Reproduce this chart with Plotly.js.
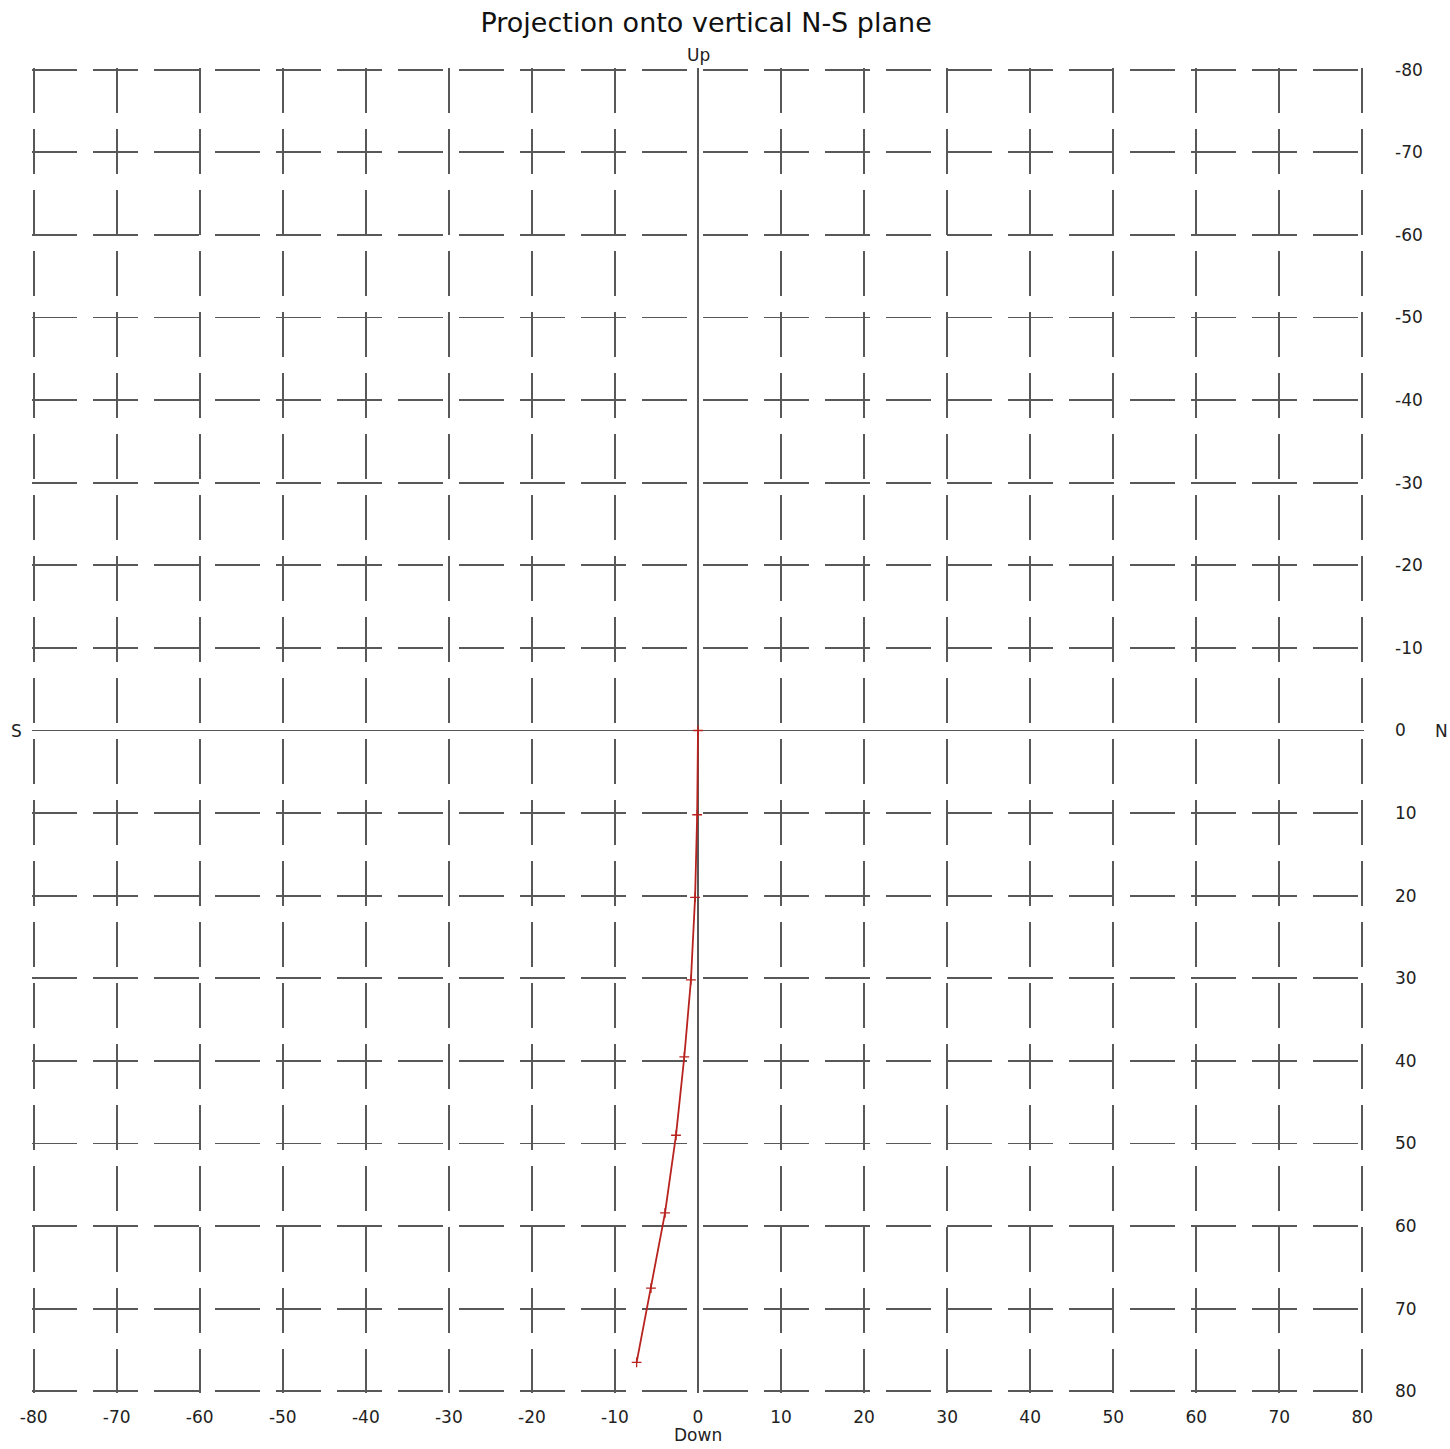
<!DOCTYPE html>
<html>
<head>
<meta charset="utf-8">
<script src="https://cdn.plot.ly/plotly-3.0.1.min.js"></script>
<style>html,body{margin:0;padding:0;background:#fff;}#chart{width:1450px;height:1449px;}</style>
</head>
<body>
<div id="chart"></div>
<script>
// Data (N-S offset vs depth)
const northSouth = [0, -0.1, -0.35, -0.85, -1.65, -2.65, -3.97, -5.66, -7.39];
const depth      = [0, 10.2, 20.2, 30.2, 39.5, 49.0, 58.4, 67.5, 76.5];
const tickValues = [-80,-70,-60,-50,-40,-30,-20,-10,0,10,20,30,40,50,60,70,80];
const tickLabels = tickValues.map(String);

const FONT = 'DejaVu Sans, Liberation Sans, Arial, sans-serif';
const gridColor = '#585858';
const trace = {
  x: northSouth,
  y: depth,
  mode: 'lines+markers',
  type: 'scatter',
  line: {color: '#b8231f', width: 1.8},
  marker: {symbol: 'cross-thin', size: 7, line: {color: '#b8231f', width: 1.3}, color: '#b8231f'},
  hoverinfo: 'skip',
  showlegend: false
};

const axisCommon = {
  tickvals: tickValues,
  ticktext: tickLabels,
  showgrid: true,
  gridcolor: gridColor,
  gridwidth: 1.9,
  griddash: '45px,16px',
  zeroline: true,
  zerolinecolor: gridColor,
  zerolinewidth: 1.8,
  showline: false,
  ticks: '',
  tickfont: {family: FONT, size: 17, color: '#222'},
  fixedrange: true
};

const layout = {
  width: 1450,
  height: 1449,
  margin: {l: 32, r: 86, t: 68, b: 56},
  paper_bgcolor: '#ffffff',
  plot_bgcolor: '#ffffff',
  title: {
    text: 'Projection onto vertical N-S plane',
    font: {family: FONT, size: 27, color: '#111'},
    xref: 'container', x: 0.487, xanchor: 'center',
    yref: 'container', y: 1 - 23/1449, yanchor: 'middle'
  },
  xaxis: Object.assign({}, axisCommon, {
    range: [-80.2, 80.2],
    ticklabelstandoff: 12
  }),
  yaxis: Object.assign({}, axisCommon, {
    range: [80.2, -80.2],
    side: 'right',
    ticklabelstandoff: 30
  }),
  annotations: [
    {text: 'Up', xref: 'x', x: 0, yref: 'paper', y: 1, yanchor: 'bottom', yshift: 1, showarrow: false,
     font: {family: FONT, size: 17, color: '#222'}},
    {text: 'Down', xref: 'x', x: 0, yref: 'paper', y: 0, yanchor: 'top', yshift: -31, borderpad: 0, showarrow: false,
     font: {family: FONT, size: 17, color: '#222'}},
    {text: 'S', xref: 'paper', x: 0, xshift: -16, xanchor: 'center', yref: 'y', y: 0, yanchor: 'middle', showarrow: false,
     font: {family: FONT, size: 17, color: '#222'}},
    {text: 'N', xref: 'paper', x: 1, xshift: 77, xanchor: 'center', yref: 'y', y: 0, yanchor: 'middle', showarrow: false,
     font: {family: FONT, size: 17, color: '#222'}}
  ]
};

Plotly.newPlot('chart', [trace], layout, {displayModeBar: false, staticPlot: true});
</script>
</body>
</html>
